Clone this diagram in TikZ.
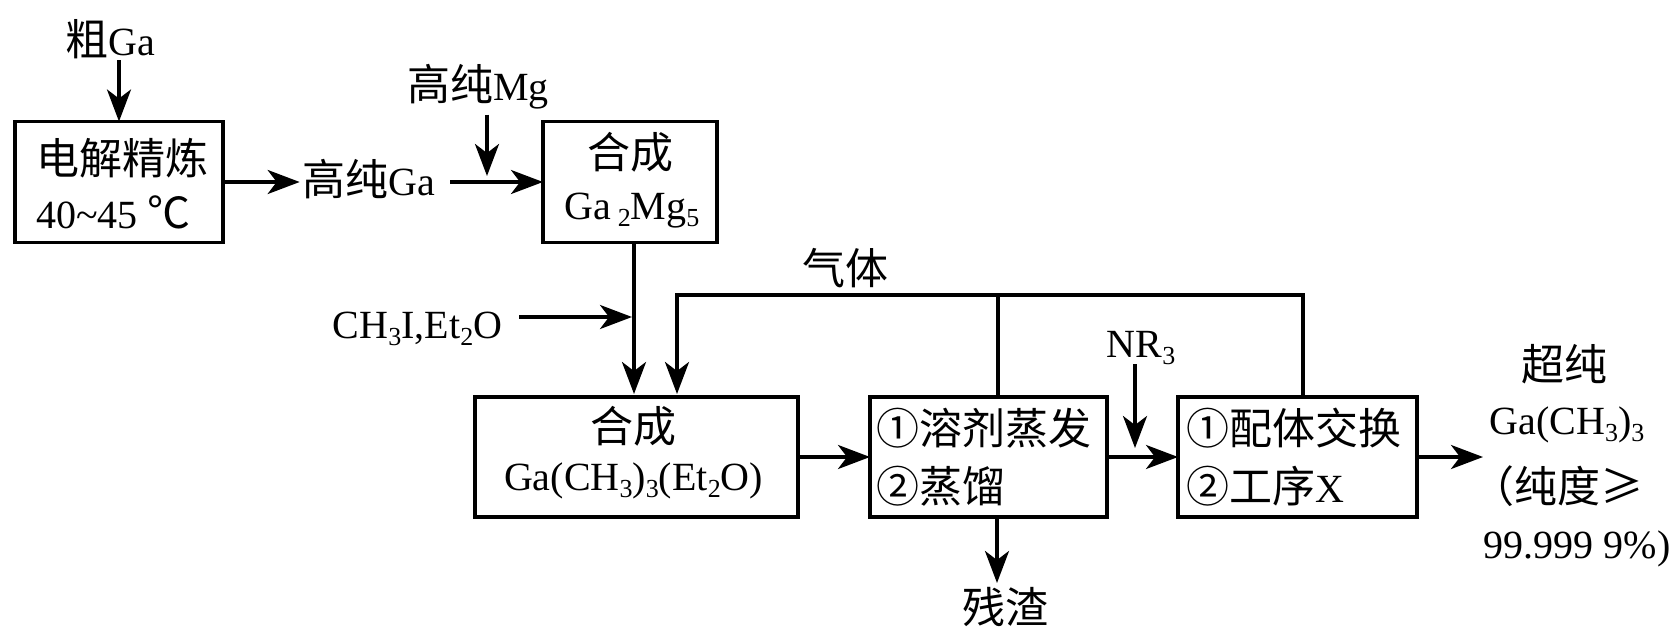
\documentclass[tikz,border=0pt]{standalone}
\usepackage{fontspec}
\setmainfont{Liberation Serif}
\newfontfamily\cjk{Noto Sans CJK SC}[Scale=1.075]
\usetikzlibrary{arrows.meta,calc}
\newcommand\zhs[1]{{\cjk #1}}
\newcommand\mysub[1]{\raisebox{-7pt}{\fontsize{26}{26}\selectfont #1}}
\begin{document}
\begin{tikzpicture}[x=1pt,y=-1pt,
  every node/.style={inner sep=0pt, outer sep=0pt, font=\fontsize{40}{48}\selectfont},
  box/.style={draw, line width=3.5pt, rectangle},
  arr/.style={line width=3.5pt, -{Stealth[length=32pt,width=24pt,inset=9pt]}},
  ln/.style={line width=3.5pt}
]
\useasboundingbox (0,0) rectangle (1673,628);

% boxes
\node[box, minimum width=208pt, minimum height=121pt] (b1) at (119,182) {};
\node[box, minimum width=174pt, minimum height=121pt] (b2) at (630,182) {};
\node[box, minimum width=323pt, minimum height=120pt] (b3) at (636.5,457) {};
\node[box, minimum width=237pt, minimum height=120pt] (b4) at (988.5,457) {};
\node[box, minimum width=239pt, minimum height=120pt] (b5) at (1297.5,457) {};

% box texts
\node[anchor=base west] (b1a) at (36,175) {\zhs{电解精炼}};
\node[anchor=base west] (b1b) at (36,229) {40\textasciitilde45 \zhs{℃}};
\node[anchor=base] (b2a) at (630,169) {\zhs{合成}};
\node[anchor=base] (b2b) at (632,220) {Ga\,\mysub{2}Mg\mysub{5}};
\node[anchor=base] (b3a) at (633,442) {\zhs{合成}};
\node[anchor=base] (b3b) at (633.5,490) {Ga(CH\mysub{3})\mysub{3}(Et\mysub{2}O)};
\node[anchor=base west] (b4a) at (876,444) {\zhs{①溶剂蒸发}};
\node[anchor=base west] (b4b) at (876,502) {\zhs{②蒸馏}};
\node[anchor=base west] (b5a) at (1186,444) {\zhs{①配体交换}};
\node[anchor=base west] (b5b) at (1186,502) {\zhs{②工序}X};

% free texts
\node[anchor=base] (t1) at (110,56) {\zhs{粗}Ga};
\node[anchor=base] (t2) at (369,196) {\zhs{高纯}Ga};
\node[anchor=base] (t3) at (478,101) {\zhs{高纯}Mg};
\node[anchor=base] (t4) at (417.5,338) {CH\mysub{3}I,Et\mysub{2}O};
\node[anchor=base] (gas) at (845,285) {\zhs{气体}};
\node[anchor=base] (t6) at (1141,357) {NR\mysub{3}};
\node[anchor=base] (res) at (1005,623) {\zhs{残渣}};
\node[anchor=base] (o1) at (1564,380) {\zhs{超纯}};
\node[anchor=base] (o2) at (1567,434) {Ga(CH\mysub{3})\mysub{3}};
\node[anchor=base] (o3) at (1557,502) {\zhs{（纯度≥}};
\node[anchor=base] (o4) at (1577,558) {99.999 9\%)};

% helper coordinates
\coordinate (g1) at ([xshift=15pt]t2.east);
\coordinate (mg) at (487,176);
\coordinate (j1) at (632,317);
\coordinate (c1) at ([xshift=17pt]t4.east);
\coordinate (fbR) at (1303,295);
\coordinate (fbM) at (998,295);
\coordinate (fbL) at (677,295);
\coordinate (nr) at (1135,448);
\coordinate (r1) at (997,583);
\coordinate (oa) at (1483,457);
\coordinate (v1) at (634,0);

% connectors
\draw[arr, shorten <=1pt] (t1.south -| b1.north) -- (b1.north);
\draw[arr, shorten >=3pt] (b1.east) -- (b1.east -| t2.west);
\draw[arr] (g1 |- b2.west) -- (b2.west);
\draw[arr, shorten <=5pt] (t3.south -| mg) -- (mg);
\draw[arr, shorten >=3pt] (v1 |- b2.south) -- (v1 |- b3.north);
\draw[arr] (c1 |- j1) -- (j1);
\draw[arr, shorten >=3pt] (fbR |- b5.north) -- (fbR) -- (fbL) -- (fbL |- b3.north);
\draw[ln] (fbM |- b4.north) -- (fbM);
\draw[arr] (b3.east) -- (b4.west);
\draw[arr] (b4.east) -- (b5.west);
\draw[arr] (t6.south -| nr) -- (nr);
\draw[arr] (r1 |- b4.south) -- (r1);
\draw[arr] (b5.east) -- (b5.east -| oa);
\end{tikzpicture}
\end{document}
